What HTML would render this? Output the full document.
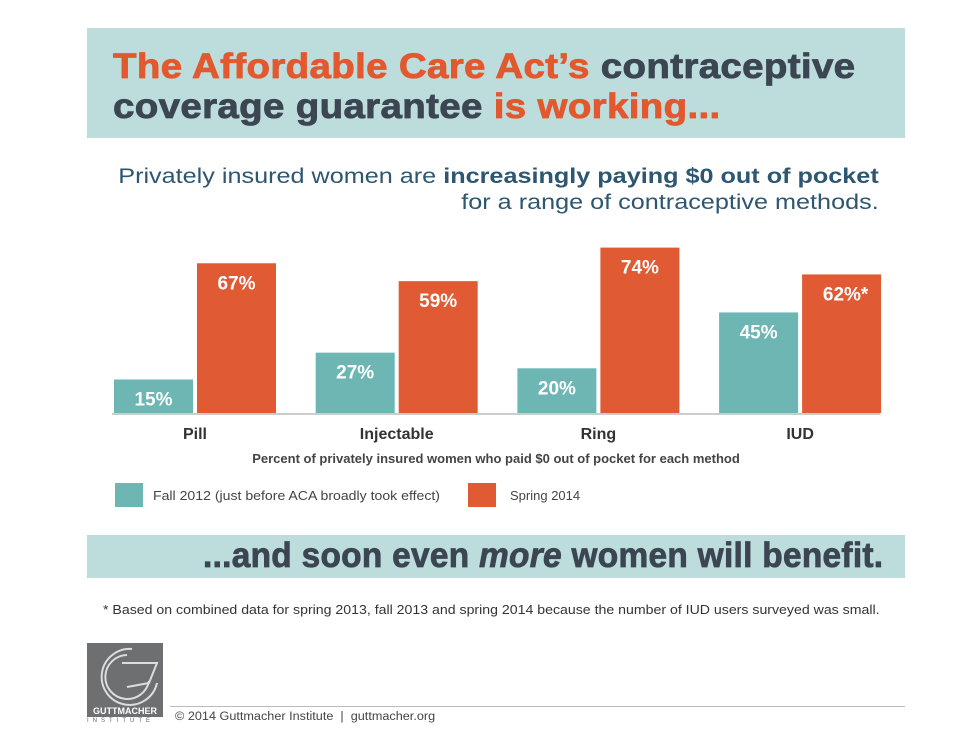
<!DOCTYPE html>
<html><head><meta charset="utf-8"><style>
body{margin:0;width:980px;height:755px;background:#fff;position:relative;overflow:hidden;font-family:"Liberation Sans",sans-serif}
.abs{position:absolute}
.band{background:#bddcdc}
.h1{font-weight:bold;font-size:35px;line-height:40px;color:#3c4652;letter-spacing:0.3px;transform-origin:left top;white-space:nowrap;-webkit-text-stroke:0.8px currentColor}
.o{color:#e2582f}
.sub{color:#2d5670;font-size:21px;white-space:nowrap;transform:scaleX(1.2);transform-origin:right top;text-align:right}
</style></head><body>
<div class="abs band" style="left:87px;top:28px;width:818px;height:110px"></div>
<div class="abs h1" style="left:113px;top:47px;transform:scaleX(1.1)"><span class="o">The Affordable Care Act’s</span> contraceptive<br>coverage guarantee <span class="o">is working...</span></div>
<div class="abs sub" style="right:101px;top:164px;line-height:26px">Privately insured women are <b>increasingly paying $0 out of pocket</b><br>for a range of contraceptive methods.</div>
<svg class="abs" style="left:0;top:0" width="980" height="530" id="chart"></svg>
<div class="abs band" style="left:87px;top:535px;width:818px;height:43px"></div>
<div class="abs h1" style="left:203px;top:536px;transform:scaleX(0.955)">...and soon even <i>more</i> women will benefit.</div>
<div class="abs" style="left:103px;top:603px;font-size:12.5px;color:#333;white-space:nowrap;transform:scaleX(1.13);transform-origin:left top">* Based on combined data for spring 2013, fall 2013 and spring 2014 because the number of IUD users surveyed was small.</div>
<div class="abs" style="left:87px;top:643px;width:76px;height:63px;background:#6d6f71;overflow:hidden">
<svg width="76" height="63"><path d="M45 6 A28 28 0 1 0 70 40" fill="none" stroke="#ddd" stroke-width="2"/><path d="M40 12 A22 22 0 1 0 62 38" fill="none" stroke="#ddd" stroke-width="2"/><path d="M35 20 L70 20 L62 40 L40 44" fill="none" stroke="#ddd" stroke-width="2"/></svg></div>
<div class="abs" style="left:87px;top:706px;width:76px;background:#6d6f71;color:#fff;font-size:9px;font-weight:bold;text-align:center;height:11px;line-height:11px">GUTTMACHER</div>
<div class="abs" style="left:87px;top:718px;font-size:6px;letter-spacing:4px;color:#666">INSTITUTE</div>
<div class="abs" style="left:170px;top:706px;width:735px;height:1px;background:#bbb"></div>
<div class="abs" style="left:175px;top:711px;font-size:11.5px;color:#444;transform:scaleX(1.1);transform-origin:left top;white-space:nowrap">© 2014 Guttmacher Institute &nbsp;|&nbsp; guttmacher.org</div>
<script>
const categories=["Pill","Injectable","Ring","IUD"];
const fall2012=[15,27,20,45];
const spring2014=[67,59,74,62];
const springLabels=["67%","59%","74%","62%*"];
const svg=document.getElementById('chart');
const NS='http://www.w3.org/2000/svg';
const base=413, scale=2.235, x0=114, step=201.7, bw=79;
const y=v=>base-v*scale;
const xg=i=>x0+i*step;
function mk(t,a){const e=document.createElementNS(NS,t);for(const k in a)e.setAttribute(k,a[k]);svg.appendChild(e);return e;}
const ax=mk('line',{x1:112,x2:880,y1:base+1,y2:base+1,stroke:'#ccc','stroke-width':2});


categories.forEach((c,i)=>{
  const r1=mk('rect',{x:xg(i),y:y(fall2012[i]),width:bw,height:fall2012[i]*scale,fill:'#6db6b4'});
  
  
  const r2=mk('rect',{x:xg(i)+83,y:y(spring2014[i]),width:bw,height:spring2014[i]*scale,fill:'#e05a33'});
  
  
  const t1=mk('text',{x:xg(i)+bw/2,y:y(fall2012[i])+26,'text-anchor':'middle',fill:'#fff','font-size':19,'font-weight':'bold','font-family':'Liberation Sans'});
  t1.textContent=fall2012[i]+'%';
  
  
  const t2=mk('text',{x:xg(i)+83+bw/2+(springLabels[i].includes('*')?4:0),y:y(spring2014[i])+26,'text-anchor':'middle',fill:'#fff','font-size':19,'font-weight':'bold','font-family':'Liberation Sans'});
  t2.textContent=springLabels[i];
  
  
  const ct=mk('text',{x:xg(i)+81,y:439,'text-anchor':'middle',fill:'#333','font-size':16,'font-weight':'bold','font-family':'Liberation Sans'});
  ct.textContent=c;
  
  
});
const xt=mk('text',{x:496,y:463,'text-anchor':'middle',fill:'#444','font-size':13,'font-weight':'bold','font-family':'Liberation Sans'});
xt.textContent='Percent of privately insured women who paid $0 out of pocket for each method';


const l1=mk('rect',{x:115,y:483,width:28,height:24,fill:'#6db6b4'});


const lt1=mk('text',{x:153,y:500,fill:'#444','font-size':13,'font-family':'Liberation Sans',textLength:287,lengthAdjust:'spacingAndGlyphs'});
lt1.textContent='Fall 2012 (just before ACA broadly took effect)';


const l2=mk('rect',{x:468,y:483,width:28,height:24,fill:'#e05a33'});


const lt2=mk('text',{x:510,y:500,fill:'#444','font-size':13,'font-family':'Liberation Sans'});
lt2.textContent='Spring 2014';


</script>
</body></html>
